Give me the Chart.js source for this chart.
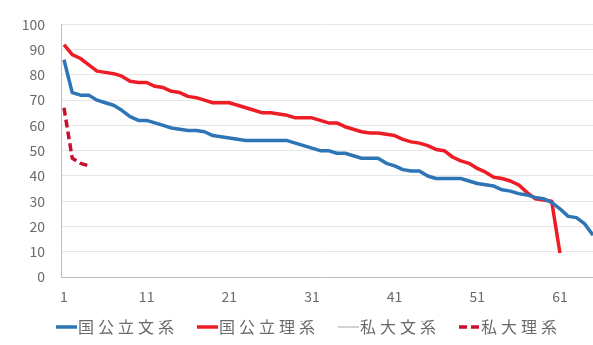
<!DOCTYPE html>
<html>
<head>
<meta charset="utf-8">
<script src="https://cdn.jsdelivr.net/npm/chart.js@4.4.1/dist/chart.umd.min.js"></script>
<style>
  html, body { margin: 0; padding: 0; background: #ffffff; overflow: hidden; }
  #wrap { width: 593px; height: 345px; position: relative; }
</style>
</head>
<body>
<div id="wrap"><canvas id="c" width="593" height="345"></canvas></div>
<script>
// Series names
const seriesNames = ['国公立文系', '国公立理系', '私大文系', '私大理系'];

// Rank-ordered values (score by rank)
const kokuBun = [86, 73, 72, 72, 70, 69, 68, 66, 63.5, 62,
                 62, 61, 60, 59, 58.5, 58, 58, 57.5, 56, 55.5,
                 55, 54.5, 54, 54, 54, 54, 54, 54, 53, 52,
                 51, 50, 50, 49, 49, 48, 47, 47, 47, 45,
                 44, 42.5, 42, 42, 40, 39, 39, 39, 39, 38,
                 37, 36.5, 36, 34.5, 34, 33, 32.5, 31.5, 31, 29.5,
                 27, 24, 23.5, 21, 16.5];
const kokuRi = [92, 88, 86.5, 84, 81.5, 81, 80.5, 79.5, 77.5, 77,
                77, 75.5, 75, 73.5, 73, 71.5, 71, 70, 69, 69,
                69, 68, 67, 66, 65, 65, 64.5, 64, 63, 63,
                63, 62, 61, 61, 59.5, 58.5, 57.5, 57, 57, 56.5,
                56, 54.5, 53.5, 53, 52, 50.5, 50, 47.5, 46, 45,
                43, 41.5, 39.5, 39, 38, 36.5, 33.5, 31, 30.5, 30,
                9.5];
const shiBun = [];
const shiRi = [67, 47, 45, 44];

// Tick labels
const xTickValues = [1, 11, 21, 31, 41, 51, 61];
const yTickStep = 10;

// rank -> value pairs for the linear rank axis
const toPoints = arr => arr.map((v, i) => ({ x: i + 1, y: v }));

const textColor = '#6a6a6a';
const fontFamily = '"Noto Sans CJK JP", "Noto Sans", sans-serif';

// Legend drawn on the canvas with wide character spacing
const spacedLegend = {
  id: 'spacedLegend',
  afterDraw(chart) {
    const ctx = chart.ctx;
    const y = 327;
    let x = 56;
    const sampleLen = 21;
    ctx.save();
    chart.data.datasets.forEach(ds => {
      ctx.beginPath();
      ctx.setLineDash(ds.borderDash || []);
      ctx.strokeStyle = ds.borderColor;
      ctx.lineWidth = ds.borderWidth;
      ctx.moveTo(x, y);
      ctx.lineTo(x + sampleLen, y);
      ctx.stroke();
      ctx.setLineDash([]);
      ctx.font = '16px ' + fontFamily;
      ctx.letterSpacing = '4px';
      ctx.fillStyle = textColor;
      ctx.textBaseline = 'middle';
      ctx.textAlign = 'left';
      const tx = x + sampleLen + 1;
      ctx.fillText(ds.label, tx, y);
      x = tx + ctx.measureText(ds.label).width + 19;
    });
    ctx.restore();
  }
};

new Chart(document.getElementById('c'), {
  type: 'line',
  data: {
    datasets: [
      { label: seriesNames[0], data: toPoints(kokuBun), borderColor: '#2E75B6', borderWidth: 3.5 },
      { label: seriesNames[1], data: toPoints(kokuRi), borderColor: '#EE1C25', borderWidth: 3.5 },
      { label: seriesNames[2], data: toPoints(shiBun), borderColor: '#A5A5A5', borderWidth: 1 },
      { label: seriesNames[3], data: toPoints(shiRi), borderColor: '#C8102E', borderWidth: 3.5, borderDash: [8, 4] }
    ]
  },
  options: {
    responsive: false,
    animation: false,
    events: [],
    layout: { padding: { top: 22, bottom: 38, left: 0, right: 0 } },
    elements: {
      point: { radius: 0 },
      line: { tension: 0, borderJoinStyle: 'round', borderCapStyle: 'butt' }
    },
    plugins: {
      legend: { display: false },
      tooltip: { enabled: false }
    },
    scales: {
      x: {
        type: 'linear',
        min: 0.64,
        max: 65,
        afterBuildTicks: scale => { scale.ticks = xTickValues.map(v => ({ value: v })); },
        afterFit: scale => { scale.height = 30; },
        grid: { display: false, drawTicks: false },
        border: { display: true, color: '#BFBFBF', width: 1 },
        ticks: {
          padding: 11,
          color: textColor,
          font: { family: fontFamily, size: 14 },
          maxRotation: 0,
          autoSkip: false,
          callback: v => String(v)
        }
      },
      y: {
        min: 0,
        max: 100,
        afterFit: scale => { scale.width = 61; },
        grid: { color: '#E6E6E6', drawTicks: false },
        border: { display: true, color: '#BFBFBF', width: 1 },
        ticks: {
          stepSize: yTickStep,
          padding: 16,
          color: textColor,
          font: { family: fontFamily, size: 14 }
        }
      }
    }
  },
  plugins: [spacedLegend]
});
</script>
</body>
</html>
